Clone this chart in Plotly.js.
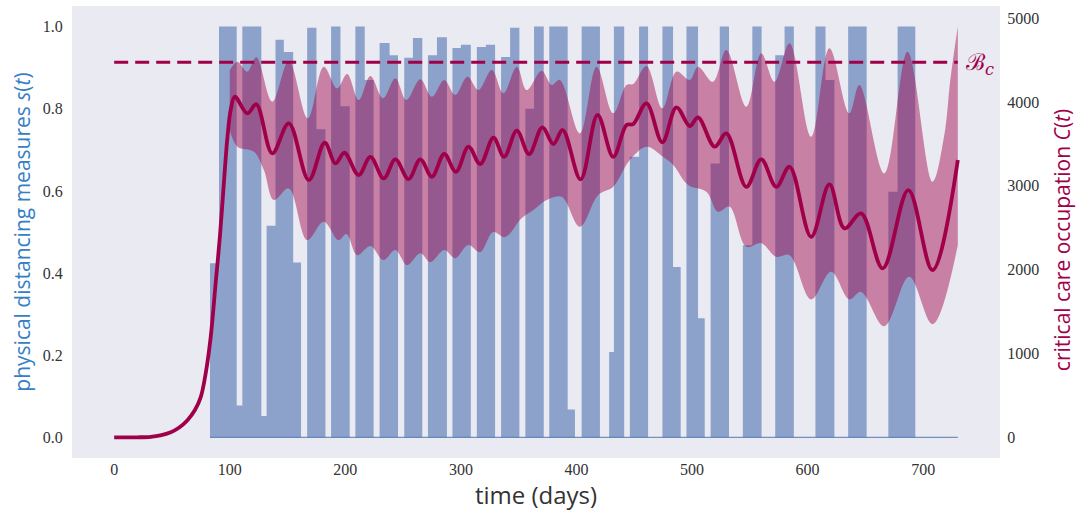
<!DOCTYPE html>
<html>
<head>
<meta charset="utf-8">
<script src="https://cdn.plot.ly/plotly-3.0.1.min.js"></script>
<style>html,body{margin:0;padding:0;background:#fff;}#chart{width:1085px;height:514px;}</style>
</head>
<body>
<div id="chart"></div>
<script>
// physical distancing measures s(t): step function (day where a value starts, value)
const sDay = [82.9, 90.7, 106.0, 110.9, 127.3, 131.9, 139.6, 146.8, 154.9, 161.7, 167.0, 175.0, 182.8, 187.7, 195.8, 203.8, 208.7, 216.8, 224.5, 229.7, 238.3, 245.6, 251.0, 258.5, 266.6, 271.5, 279.3, 287.9, 292.7, 300.0, 308.6, 313.8, 321.6, 329.6, 334.8, 342.6, 350.6, 355.8, 363.3, 371.7, 376.5, 392.4, 398.7, 404.5, 420.3, 428.3, 432.4, 441.3, 446.2, 454.2, 462.0, 474.4, 483.6, 490.2, 495.2, 505.2, 511.0, 516.1, 524.0, 532.0, 544.0, 552.2, 560.2, 572.0, 580.1, 588.1, 606.8, 615.5, 623.2, 635.1, 651.1, 669.9, 677.9, 693.2, 730];
const sVal = [0.424, 1.0, 0.078, 1.0, 0.052, 0.515, 0.968, 0.938, 0.426, 0, 0.997, 0.75, 0, 1.0, 0.806, 0, 1.0, 0.87, 0, 0.96, 0.93, 0, 0.924, 0.972, 0, 0.93, 0.974, 0, 0.948, 0.956, 0, 0.95, 0.956, 0, 0.926, 0.997, 0, 0.8, 1.0, 0, 1.0, 0.068, 0, 1.0, 0, 0.208, 1.0, 0, 0.683, 1.0, 0, 1.0, 0.415, 0, 1.0, 0.29, 0, 0.667, 1.0, 0, 0.468, 1.0, 0, 0.93, 1.0, 0, 1.0, 0.87, 0, 1.0, 0, 0.598, 1.0, 0, 0];

// critical care occupation C(t): mean
const cDay = [0, 20, 31.7, 40, 49, 56, 63.4, 70, 74.9, 79.2, 83.5, 87.8, 91.5, 95, 98, 101, 104.5, 115.2, 123.0, 136.8, 151.1, 168.4, 182.2, 191.5, 199.2, 211.6, 221.7, 233.2, 243.3, 254.7, 264.9, 274.9, 285.6, 295.7, 306.6, 316.7, 328.2, 337.4, 348.4, 359.0, 370.5, 380.0, 388.1, 403.6, 418.3, 431.8, 443.3, 449.1, 460.6, 474.3, 486.5, 498.0, 505.2, 519.6, 529.7, 547.0, 559.9, 572.9, 584.4, 603.1, 618.9, 631.9, 646.3, 665.0, 687.2, 708.1, 730];
const cMean = [0, 2, 8, 25, 62, 115, 205, 330, 480, 766, 1196, 1840, 2400, 3050, 3580, 3920, 4063, 3865, 3973, 3388, 3746, 3069, 3514, 3268, 3395, 3129, 3347, 3089, 3316, 3081, 3316, 3109, 3380, 3168, 3467, 3260, 3574, 3347, 3658, 3380, 3698, 3499, 3666, 3078, 3845, 3347, 3726, 3737, 3984, 3520, 3937, 3714, 3817, 3467, 3626, 2989, 3316, 2989, 3228, 2393, 3018, 2493, 2672, 2016, 2950, 1995, 3308];

// uncertainty band: upper edge
const upDay = [100, 106.6, 115.2, 123.0, 136.8, 151.1, 167.5, 181.3, 192.9, 201.6, 211.6, 221.7, 232.6, 243.3, 252.8, 264.9, 274.9, 285.6, 295.1, 305.7, 315.2, 326.8, 336.8, 348.4, 357.0, 369.9, 378.6, 385.7, 403.0, 417.4, 431.8, 443.3, 449.1, 460.6, 474.3, 486.5, 498.0, 505.2, 518.1, 529.7, 547.0, 559.9, 571.4, 584.4, 603.1, 618.9, 636.1, 644.8, 666.4, 686.5, 708.1, 718.3, 723.5, 730];
const upVal = [4379, 4481, 4362, 4533, 4004, 4489, 3805, 4421, 4163, 4334, 4024, 4310, 4044, 4283, 4024, 4271, 4063, 4263, 4084, 4302, 4143, 4382, 4104, 4421, 4143, 4374, 4203, 4263, 3626, 4421, 3865, 4203, 4215, 4430, 3925, 4362, 4263, 4421, 4242, 4621, 3944, 4581, 4242, 4700, 3586, 4641, 3865, 4203, 3149, 4600, 3049, 3606, 4262, 4900];

// uncertainty band: lower edge
const loDay = [100, 106.6, 120.9, 129.5, 138.2, 151.1, 167.0, 181.3, 194.0, 201.0, 210.2, 221.7, 232.9, 243.3, 253.4, 264.9, 273.5, 285.6, 295.1, 306.3, 316.7, 327.9, 338.3, 352.7, 362.7, 374.3, 387.2, 403.0, 418.8, 431.8, 446.2, 460.6, 474.9, 483.7, 496.6, 512.4, 522.4, 532.5, 547.0, 559.9, 572.9, 584.4, 603.1, 620.4, 636.1, 646.3, 666.4, 687.9, 708.1, 730];
const loVal = [3666, 3467, 3407, 3189, 2831, 2970, 2353, 2572, 2353, 2425, 2174, 2282, 2115, 2234, 2055, 2198, 2091, 2234, 2138, 2294, 2210, 2449, 2389, 2616, 2711, 2831, 2870, 2512, 2890, 2989, 3308, 3467, 3347, 3249, 3010, 2930, 2691, 2751, 2273, 2317, 2154, 2174, 1646, 1975, 1646, 1736, 1327, 1915, 1351, 2294];

// critical care capacity B_c
const capDay = [0, 730];
const capVal = [4474, 4474];

const xTicks = [0, 100, 200, 300, 400, 500, 600, 700];
const yTicks = [0, 0.2, 0.4, 0.6, 0.8, 1.0];
const yTickText = ['0.0', '0.2', '0.4', '0.6', '0.8', '1.0'];
const y2Ticks = [0, 1000, 2000, 3000, 4000, 5000];

const crimson = '#A0004A';
const blueFill = 'rgba(76,114,176,0.6)';
const traces = [
  {x: sDay, y: sVal, type: 'scatter', mode: 'lines', line: {shape: 'hv', width: 0, color: blueFill},
   fill: 'tozeroy', fillcolor: blueFill, xaxis: 'x', yaxis: 'y', hoverinfo: 'skip', showlegend: false},
  {x: [sDay[0], sDay[sDay.length - 1]], y: [0, 0], type: 'scatter', mode: 'lines', line: {width: 1.3, color: 'rgba(76,114,176,0.75)'},
   xaxis: 'x', yaxis: 'y', hoverinfo: 'skip', showlegend: false},
  {x: loDay, y: loVal, type: 'scatter', mode: 'lines', line: {shape: 'spline', width: 0, color: 'rgba(0,0,0,0)'},
   xaxis: 'x', yaxis: 'y2', showlegend: false, hoverinfo: 'skip'},
  {x: upDay, y: upVal, type: 'scatter', mode: 'lines', line: {shape: 'spline', width: 0, color: 'rgba(0,0,0,0)'},
   fill: 'tonexty', fillcolor: 'rgba(160,0,70,0.45)', xaxis: 'x', yaxis: 'y2', showlegend: false, hoverinfo: 'skip'},
  {x: cDay, y: cMean, type: 'scatter', mode: 'lines', line: {shape: 'spline', width: 3.8, color: crimson},
   xaxis: 'x', yaxis: 'y2', showlegend: false},
  {x: capDay, y: capVal, type: 'scatter', mode: 'lines', line: {width: 3, color: crimson, dash: '14px,7px'},
   xaxis: 'x', yaxis: 'y2', showlegend: false}
];

const tickFont = {family: 'Liberation Serif, DejaVu Serif, serif', size: 16, color: '#333'};
const titleFamily = 'Open Sans, DejaVu Sans, sans-serif';
const layout = {
  width: 1085, height: 514,
  margin: {l: 72, r: 85, t: 6, b: 56},
  paper_bgcolor: '#ffffff', plot_bgcolor: '#EAEAF2',
  showlegend: false,
  xaxis: {range: [-36.5, 766.5], tickvals: xTicks, showgrid: false, zeroline: false, showline: false,
          ticks: '', tickfont: tickFont,
          title: {text: 'time (days)', font: {family: titleFamily, size: 24, color: '#333'}, standoff: 9}},
  yaxis: {range: [-0.05, 1.05], tickvals: yTicks, ticktext: yTickText, showgrid: false, zeroline: false, showline: false,
          ticks: 'outside', ticklen: 5, tickcolor: 'rgba(0,0,0,0)', tickfont: tickFont,
          title: {text: 'physical distancing measures <i>s</i>(<i>t</i>)', font: {family: titleFamily, size: 21, color: '#3580C4'}, standoff: 6}},
  yaxis2: {range: [-245, 5145], overlaying: 'y', side: 'right', tickvals: y2Ticks, showgrid: false, zeroline: false, showline: false,
           ticks: 'outside', ticklen: 3, tickcolor: 'rgba(0,0,0,0)', tickfont: tickFont},
  annotations: [
    {x: capDay[1], y: capVal[1], xref: 'x', yref: 'y2', xanchor: 'left', yanchor: 'middle', xshift: 6, yshift: -2, showarrow: false,
     text: 'ℬ<sub><i>c</i></sub>', font: {family: 'DejaVu Serif, serif', size: 23, color: crimson}},
    {x: 1.0668, y: 0.482, xref: 'paper', yref: 'paper', xanchor: 'center', yanchor: 'middle', textangle: -90, showarrow: false,
     text: 'critical care occupation <i>C</i>(<i>t</i>)', font: {family: titleFamily, size: 21, color: crimson}}
  ]
};
Plotly.newPlot('chart', traces, layout, {displayModeBar: false, staticPlot: true});
</script>
</body>
</html>
